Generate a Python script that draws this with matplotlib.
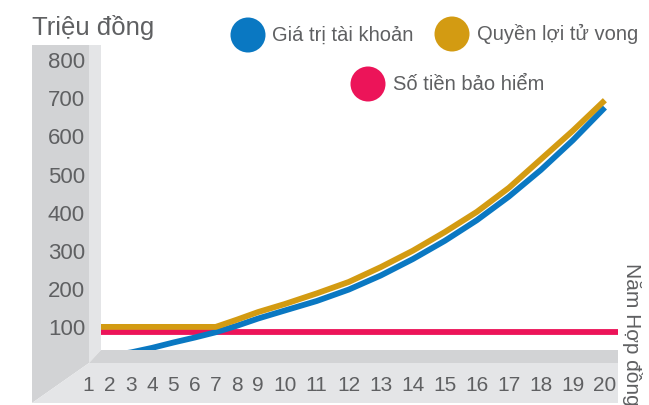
import numpy as np
import matplotlib.pyplot as plt
from matplotlib.patches import Polygon, Circle
from matplotlib.transforms import blended_transform_factory

plt.rcParams['font.family'] = ['Liberation Sans', 'DejaVu Sans']

# Data (million VND)
years = [1, 2, 3, 4, 5, 6, 7, 8, 9, 10, 11, 12, 13, 14, 15, 16, 17, 18, 19, 20]
account_value = [18, 25, 33, 45, 59, 72, 86, 103, 122, 143, 168, 198, 235, 278, 326, 380, 442, 512, 590, 676]
death_benefit = [100, 100, 100, 100, 100, 100, 100, 119, 139, 160, 188, 218, 257, 300, 349, 402, 465, 540, 615, 695]
sum_insured = 87
y_ticks = [100, 200, 300, 400, 500, 600, 700, 800]
x_labels = ['1', '2', '3', '4', '5', '6', '7', '8', '9', '10',
            '11', '12', '13', '14', '15', '16', '17', '18', '19', '20']
series_names = ['Giá trị tài khoản', 'Quyền lợi tử vong', 'Số tiền bảo hiểm']
colors = ['#0a78c2', '#d39b12', '#ec1459']

TEXT = '#5f6062'
DARK = '#d2d3d5'
LIGHT = '#e4e5e7'
W, H = 649, 405


# year labels were typeset as text: two-digit years take more room
def fwd(x):
    x = np.asarray(x, dtype=float)
    return np.where(x <= 9.5, x, 9.5 + 1.51 * (x - 9.5))


def inv(u):
    u = np.asarray(u, dtype=float)
    return np.where(u <= 9.5, u, 9.5 + (u - 9.5) / 1.51)


fig = plt.figure(figsize=(W / 100, H / 100), dpi=100)

# background layer in pixel coordinates: the "3D" walls
bg = fig.add_axes([0, 0, 1, 1])
bg.set_xlim(0, W)
bg.set_ylim(H, 0)
bg.axis('off')
bg.add_patch(Polygon([(32, 45), (89, 45), (89, 363), (32, 403)], color=DARK, lw=0))
bg.add_patch(Polygon([(89, 45), (101, 45), (101, 350), (89, 363)], color=LIGHT, lw=0))
bg.add_patch(Polygon([(101, 350), (618, 350), (618, 363), (89, 363)], color=DARK, lw=0))
bg.add_patch(Polygon([(89, 363), (618, 363), (618, 403), (32, 403)], color=LIGHT, lw=0))

# legend
legend_pos = [(248, 35, 272, 40.5), (452, 34, 477, 40.5), (368, 84, 393, 90)]
for name, c, (cx, cy, tx, ty) in zip(series_names, colors, legend_pos):
    bg.add_patch(Circle((cx, cy), 17.5, color=c, lw=0))
    bg.text(tx, ty, name, fontsize=14.5, color=TEXT, ha='left', va='baseline')

bg.text(32, 35, 'Triệu đồng', fontsize=18.5, color=TEXT, ha='left', va='baseline')
bg.text(632, 263, 'Năm Hợp đồng', fontsize=15, color=TEXT, rotation=-90,
        ha='center', va='top')

# main plot
ax = fig.add_axes([101 / W, (H - 350) / H, 517 / W, 305 / H])
ax.set_xscale('function', functions=(fwd, inv))
ax.set_xlim(1.59, 20.41)
ax.set_ylim(39.4, 840)
ax.patch.set_alpha(0)
for s in ax.spines.values():
    s.set_visible(False)

ax.axhline(sum_insured, color=colors[2], lw=4.2, zorder=1)
ax.plot(years, account_value, color=colors[0], lw=4.2, zorder=2, solid_capstyle='butt')
ax.plot(years, death_benefit, color=colors[1], lw=4.2, zorder=3, solid_capstyle='butt')

ax.set_xticks([])
ax.set_yticks(y_ticks)
ax.tick_params(axis='y', length=0, pad=11.5, labelsize=16, labelcolor=TEXT)

trans = blended_transform_factory(ax.transData, ax.transAxes)
for yr, lab in zip(years, x_labels):
    ax.text(yr, -0.1164, lab, transform=trans, ha='center', va='center',
            fontsize=15, color=TEXT, clip_on=False)

fig.savefig('out.png', dpi=100)
